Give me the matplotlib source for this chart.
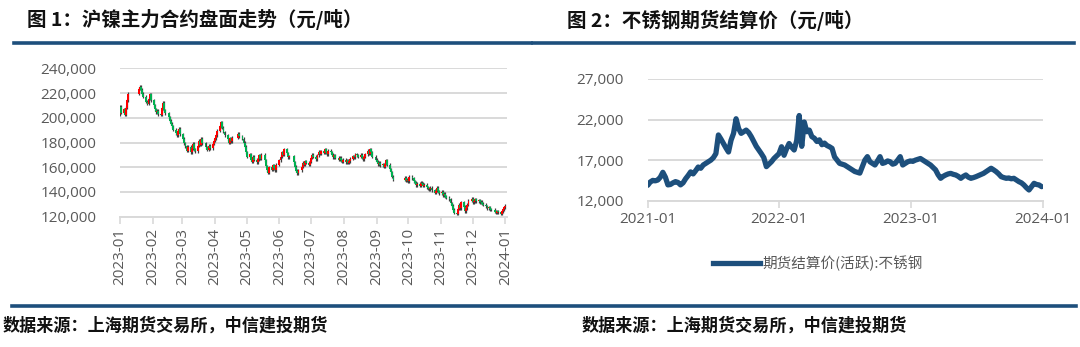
import matplotlib
matplotlib.use("Agg")
import matplotlib.pyplot as plt
import matplotlib.dates as mdates
from matplotlib.lines import Line2D
from matplotlib.ticker import FuncFormatter
import numpy as np
import pandas as pd

plt.rcParams['font.family'] = ['Noto Sans CJK SC', 'DejaVu Sans']

# ---- 沪镍主力合约 daily closes (千元/吨), one list per month
ni_first_open = 203.0
ni_jan23 = [209.0, 204.0, 207.0, 202.5, 208.0, 214.0, 219.5, 223.5, 225.0]
ni_feb23 = [222.5, 219.5, 217.0, 213.0, 211.5, 215.5, 219.0, 214.0, 210.0, 207.0,
            204.5, 205.5, 203.0, 202.5, 207.5, 212.0, 206.0, 203.5, 200.5, 197.5]
ni_mar23 = [195.0, 193.0, 190.5, 187.5, 186.0, 189.5, 191.0, 186.5, 183.0, 179.5,
            177.0, 173.5, 176.5, 172.0, 175.5, 179.0, 174.5, 173.0, 177.5, 181.5,
            178.0, 183.0, 179.5]
ni_apr23 = [176.0, 174.0, 177.5, 175.5, 179.0, 181.5, 183.5, 186.0, 189.5, 193.0,
            196.5, 192.0, 188.5, 186.0, 182.5, 180.0, 183.5, 181.0, 184.0]
ni_may23 = [187.0, 185.0, 183.0, 180.0, 176.5, 172.0, 168.5, 170.5, 166.0, 164.5,
            168.5, 166.0, 164.0, 166.5, 169.5, 167.0, 170.0, 165.5, 161.0, 157.5]
ni_jun23 = [155.5, 160.0, 158.0, 161.5, 159.0, 157.5, 162.0, 165.5, 168.5, 172.0,
            170.0, 174.5, 171.5, 168.0, 169.0, 164.0, 160.5, 157.0, 155.0, 157.5]
ni_jul23 = [160.5, 163.5, 162.0, 165.0, 163.5, 162.0, 164.5, 167.5, 170.0, 168.5,
            166.5, 169.5, 172.5, 171.0, 173.0, 171.5, 174.5, 172.0, 170.5, 173.5,
            172.0]
ni_aug23 = [170.0, 168.0, 169.5, 167.5, 166.0, 167.5, 165.5, 164.5, 166.0, 164.0,
            165.5, 163.5, 165.0, 167.0, 169.0, 168.0, 170.5, 169.5, 168.5, 170.0,
            168.0, 166.5, 168.5]
ni_sep23 = [170.5, 173.5, 171.0, 174.5, 172.0, 168.5, 166.0, 164.5, 162.5, 163.5,
            161.5, 162.5, 160.5, 163.0, 165.5, 162.0, 158.5, 156.0, 152.5, 150.0]
ni_oct23 = [151.5, 149.0, 150.0, 148.5, 152.5, 151.0, 148.5, 147.5, 145.5, 146.5,
            145.0, 147.5, 146.5, 145.0, 146.0, 144.0, 143.0]
ni_nov23 = [142.0, 143.5, 141.5, 139.5, 141.0, 143.5, 140.5, 139.0, 140.0, 137.5,
            138.5, 136.5, 135.5, 134.0, 131.0, 129.0, 125.5, 123.0, 122.5, 126.5,
            129.5, 127.0]
ni_dec23 = [131.5, 128.0, 124.5, 127.0, 129.5, 133.0, 134.5, 131.5, 132.5, 134.0,
            132.5, 133.5, 131.5, 132.0, 130.5, 129.5, 128.5, 127.0, 127.5, 126.0,
            125.5]
ni_jan24 = [124.0, 123.0, 124.5, 123.5, 122.5, 124.5, 126.0, 127.5, 129.0]

# exchange holidays inside the window
sh_holidays = ['2023-01-23', '2023-01-24', '2023-01-25', '2023-01-26', '2023-01-27',
               '2023-04-05', '2023-05-01', '2023-05-02', '2023-05-03',
               '2023-06-22', '2023-06-23', '2023-09-29', '2023-10-02', '2023-10-03',
               '2023-10-04', '2023-10-05', '2023-10-06', '2024-01-01']

# ---- 不锈钢期货结算价 (元/吨), weekly
ss_2021 = [13900, 14300, 14500, 14450, 14550, 14900, 15500, 14900, 13950, 14000,
           14200, 14350, 14250, 13950, 14200, 14700, 15100, 15550, 15300, 15700,
           16150, 16000, 16400, 16600, 16800, 17000, 17300, 17800, 20100, 19600,
           19050, 18500, 18000, 19450, 20300, 22100, 20900, 20300, 20500, 20700,
           20400, 19900, 19300, 18700, 18250, 17800, 17300, 16200, 16500, 16800,
           17200, 17500]
ss_2022 = [17800, 18650, 17600, 18400, 19050, 18600, 18250, 19400, 22500, 18700,
           21700, 20500, 20700, 19900, 19700, 19300, 19500, 18900, 19100, 18800,
           18650, 18450, 17400, 17000, 16600, 16500, 16400, 16200, 16000, 15800,
           15600, 15500, 15400, 16200, 17000, 17430, 16800, 16600, 16400, 16900,
           17430, 16600, 16700, 16900, 16800, 16500, 16600, 17000, 17430, 16400,
           16600, 16800]
ss_2023 = [16900, 16850, 17000, 17100, 17200, 17000, 16800, 16600, 16400, 16100,
           15800, 15200, 14760, 15000, 15170, 15300, 15370, 15250, 15170, 15000,
           14760, 15000, 15170, 14900, 14760, 14850, 14960, 15100, 15250, 15370,
           15580, 15800, 16000, 15800, 15580, 15300, 14960, 14850, 14760, 14800,
           14700, 14760, 14550, 14350, 14200, 13940, 13600, 13320, 13730, 14140,
           14000, 13940, 13730]

GREY = '#595959'
GRID = '#D9D9D9'
NAVY = '#1D4F7C'

fig = plt.figure(figsize=(10.8, 3.47), dpi=100)
W, H = 1080.0, 347.0


def box(x0, y0, x1, y1):
    return [x0 / W, 1 - y1 / H, (x1 - x0) / W, (y1 - y0) / H]


# header / footer rules and captions
for x0, x1 in [(14, 531), (533, 1074)]:
    fig.add_artist(Line2D([x0 / W, x1 / W], [1 - 42.5 / H] * 2, color=NAVY, lw=2.6))
fig.add_artist(Line2D([12 / W, 1076 / W], [1 - 305.5 / H] * 2, color=NAVY, lw=2.6))

fig.text(27 / W, 1 - 20 / H, '图 1：沪镍主力合约盘面走势（元/吨）', fontsize=14,
         fontweight='bold', va='center', color='#111111')
fig.text(567 / W, 1 - 20 / H, '图 2：不锈钢期货结算价（元/吨）', fontsize=14,
         fontweight='bold', va='center', color='#111111')
for x in (3, 582):
    fig.text(x / W, 1 - 326 / H, '数据来源：上海期货交易所，中信建投期货', fontsize=12.3,
             fontweight='bold', style='italic', va='center', color='#111111')

thousands = FuncFormatter(lambda v, p: '{:,.0f}'.format(v))

# ---- left: candlesticks
closes = np.array(ni_jan23 + ni_feb23 + ni_mar23 + ni_apr23 + ni_may23 + ni_jun23 +
                  ni_jul23 + ni_aug23 + ni_sep23 + ni_oct23 + ni_nov23 + ni_dec23 +
                  ni_jan24) * 1000
opens = np.concatenate([[ni_first_open * 1000], closes[:-1]])
days = pd.bdate_range('2023-01-12', '2024-01-12', freq='C', holidays=sh_holidays)
assert len(days) == len(closes)
x = mdates.date2num(days)

ax1 = fig.add_axes(box(120, 68.3, 507, 216.7))
up = closes >= opens
colors = np.where(up, '#FF0000', '#00B050')
lo = np.minimum(opens, closes)
hi = np.maximum(opens, closes)
WICK = 1200
ax1.vlines(x, lo - WICK, hi + WICK, color='#404040', lw=0.9, zorder=2)
ax1.bar(x, np.maximum(hi - lo, 400), bottom=lo, width=1.8, color=colors,
        linewidth=0, zorder=3)

ax1.set_xlim(mdates.date2num(pd.Timestamp('2023-01-12')),
             mdates.date2num(pd.Timestamp('2024-01-13')) + 0.5)
ax1.set_ylim(120000, 240000)
ax1.set_yticks(np.arange(120000, 240001, 20000))
ax1.yaxis.set_major_formatter(thousands)
ax1.set_xticks(mdates.date2num(pd.date_range('2023-01-12', '2024-01-12',
                                             freq=pd.DateOffset(months=1))))
ax1.xaxis.set_major_formatter(mdates.DateFormatter('%Y-%m'))
plt.setp(ax1.get_xticklabels(), rotation=90)

# ---- right: settlement price line
ss = np.array(ss_2021 + ss_2022 + ss_2023)
weeks = pd.date_range('2021-01-04', periods=len(ss), freq='7D')
ax2 = fig.add_axes(box(647.7, 79, 1042.7, 200.7))
ax2.plot(weeks, ss, color=NAVY, lw=3.8, solid_joinstyle='round',
         solid_capstyle='round', zorder=3, label='期货结算价(活跃):不锈钢')
ax2.set_xlim(pd.Timestamp('2021-01-04'), pd.Timestamp('2024-01-04'))
ax2.set_ylim(12000, 27000)
ax2.set_yticks([12000, 17000, 22000, 27000])
ax2.yaxis.set_major_formatter(thousands)
ax2.set_xticks(pd.date_range('2021-01-04', '2024-01-04', freq=pd.DateOffset(years=1)))
ax2.xaxis.set_major_formatter(mdates.DateFormatter('%Y-%m'))

for ax in (ax1, ax2):
    ax.grid(axis='y', color=GRID, lw=1.4, zorder=0)
    ax.set_axisbelow(True)
    for s in ('left', 'right', 'top'):
        ax.spines[s].set_visible(False)
    ax.spines['bottom'].set_color(GRID)
    ax.spines['bottom'].set_linewidth(1.4)
    ax.tick_params(axis='y', length=0, pad=17, labelsize=11, labelcolor=GREY)
    ax.tick_params(axis='x', length=5, width=1.2, color=GRID, labelsize=11,
                   labelcolor=GREY, pad=3)
    for lab in ax.get_xticklabels() + ax.get_yticklabels():
        lab.set_family(['Open Sans', 'DejaVu Sans'])

fig.legend(handles=[Line2D([], [], color=NAVY, lw=3.8)],
           labels=['期货结算价(活跃):不锈钢'], loc='center',
           bbox_to_anchor=(818 / W, 1 - 263 / H), frameon=False, fontsize=10.5,
           labelcolor=GREY, handlelength=3.2, handletextpad=0.2)

fig.savefig('out.png', dpi=100)
